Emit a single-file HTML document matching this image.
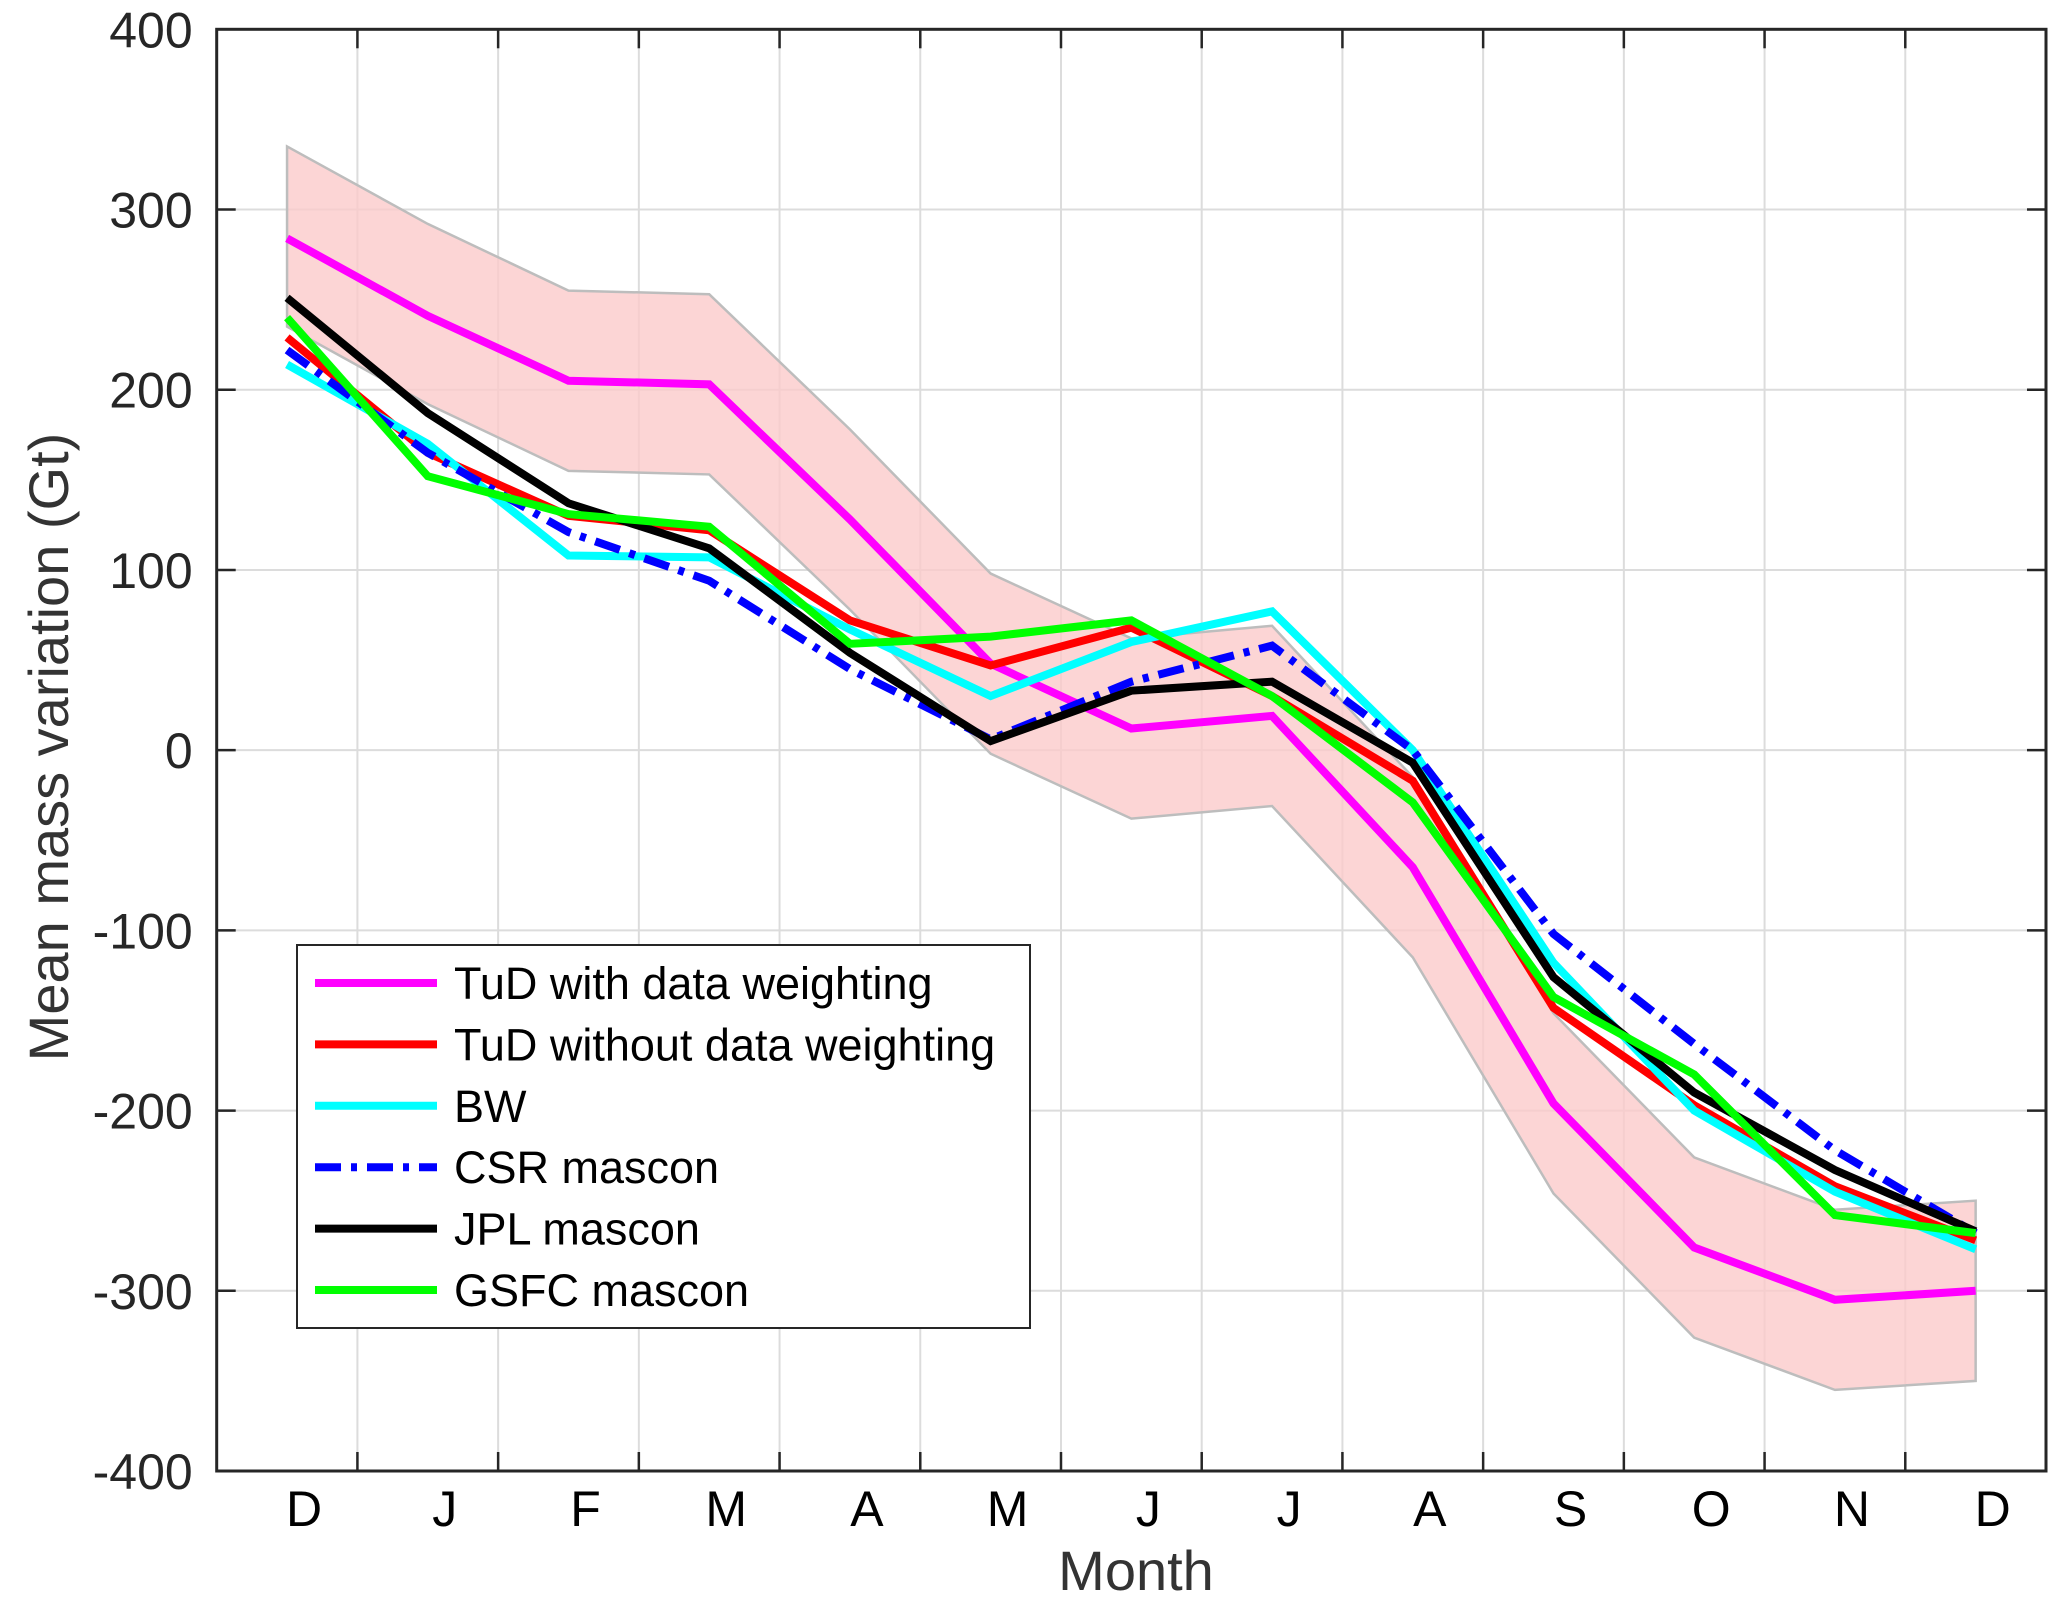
<!DOCTYPE html>
<html><head><meta charset="utf-8"><style>
html,body{margin:0;padding:0;background:#fff;}
svg{display:block;font-family:"Liberation Sans",Arial,sans-serif;}
</style></head><body>
<svg id="chart" width="2067" height="1612" viewBox="0 0 2067 1612" xmlns="http://www.w3.org/2000/svg">
<g id="grid"></g>
<g id="band"></g>
<g id="series"></g>
<g id="axes"></g>
<g id="legend"></g>
</svg>
<script>
const months = ["D","J","F","M","A","M","J","J","A","S","O","N","D"];
const yTicks = [400,300,200,100,0,-100,-200,-300,-400];
const seriesNames = ["TuD with data weighting","TuD without data weighting","BW","CSR mascon","JPL mascon","GSFC mascon"];
const tudWith = [284,241,205,203,128,48,12,19,-65,-196,-276,-305,-300];
const tudWithout = [229,165,130,122,72,47,68,30,-17,-143,-197,-242,-272];
const bw = [214,170,108,107,67,30,60,77,0,-118,-200,-245,-277];
const csr = [222,165,121,94,45,6,38,58,0,-102,-163,-222,-268];
const jpl = [251,187,137,112,54,5,33,38,-7,-126,-190,-233,-267];
const gsfc = [240,152,131,124,59,63,72,30,-29,-137,-180,-258,-268];
const bandUpper = [335,292,255,253,178,98,62,69,-15,-146,-226,-255,-250];
const bandLower = [235,192,155,153,78,-2,-38,-31,-115,-246,-326,-355,-350];

const NS="http://www.w3.org/2000/svg";
const L=216.7,R=2046,T=29.3,B=1471;
const xs=i=>L+(i+0.5)/13*(R-L);
const ys=v=>T+(400-v)/800*(B-T);
function mk(tag,attrs,parent){const e=document.createElementNS(NS,tag);for(const k in attrs)e.setAttribute(k,attrs[k]);parent.appendChild(e);return e;}
const grid=document.getElementById('grid'),band=document.getElementById('band'),ser=document.getElementById('series'),axes=document.getElementById('axes'),leg=document.getElementById('legend');

for(let i=0;i<12;i++){const x=xs(i+0.5);const g=mk('line',{x1:x,x2:x,y1:T,y2:B,stroke:'#dcdcdc','stroke-width':2},grid);

}
yTicks.forEach(v=>{const y=ys(v);const g=mk('line',{x1:L,x2:R,y1:y,y2:y,stroke:'#dcdcdc','stroke-width':2},grid);

});

let pts=bandUpper.map((v,i)=>xs(i)+','+ys(v));
for(let i=bandLower.length-1;i>=0;i--)pts.push(xs(i)+','+ys(bandLower[i]));
const bp=mk('polygon',{points:pts.join(' '),fill:'#fbcaca','fill-opacity':0.8,stroke:'#bdbdbd','stroke-width':2.5},band);



const styles=[
 {data:tudWith,color:'#ff00ff',dash:null,name:'series-tud-with-weighting'},
 {data:tudWithout,color:'#ff0000',dash:null,name:'series-tud-without-weighting'},
 {data:bw,color:'#00ffff',dash:null,name:'series-bw'},
 {data:csr,color:'#0000ff',dash:'26 10 6 10',name:'series-csr-mascon'},
 {data:jpl,color:'#000000',dash:null,name:'series-jpl-mascon'},
 {data:gsfc,color:'#00ff00',dash:null,name:'series-gsfc-mascon'}];
styles.forEach(s=>{const a={points:s.data.map((v,i)=>xs(i)+','+ys(v)).join(' '),fill:'none',stroke:s.color,'stroke-width':8,'stroke-linejoin':'miter'};
 if(s.dash)a['stroke-dasharray']=s.dash;
 const p=mk('polyline',a,ser);
 
 });

const box=mk('rect',{x:L,y:T,width:R-L,height:B-T,fill:'none',stroke:'#262626','stroke-width':3},axes);


for(let i=0;i<12;i++){const x=xs(i+0.5);
 mk('line',{x1:x,x2:x,y1:B,y2:B-19,stroke:'#262626','stroke-width':2.5},axes);
 mk('line',{x1:x,x2:x,y1:T,y2:T+19,stroke:'#262626','stroke-width':2.5},axes);}
yTicks.forEach(v=>{const y=ys(v);
 mk('line',{x1:L,x2:L+19,y1:y,y2:y,stroke:'#262626','stroke-width':2.5},axes);
 mk('line',{x1:R,x2:R-19,y1:y,y2:y,stroke:'#262626','stroke-width':2.5},axes);
 const t=mk('text',{x:L-24,y:y+18,'text-anchor':'end','font-size':50,fill:'#262626'},axes);t.textContent=v;
 
 });
months.forEach((m,i)=>{const t=mk('text',{x:xs(i)+17,y:1526,'text-anchor':'middle','font-size':50,fill:'#000'},axes);t.textContent=m;
 
 });
const xt=mk('text',{x:1136,y:1590,'text-anchor':'middle','font-size':56,fill:'#333'},axes);xt.textContent='Month';


const yt=mk('text',{x:0,y:0,'text-anchor':'middle','font-size':56,fill:'#333',transform:'translate(68,747) rotate(-90)'},axes);yt.textContent='Mean mass variation (Gt)';



const lb=mk('rect',{x:297,y:945,width:733,height:383,fill:'#fff',stroke:'#262626','stroke-width':2},leg);


seriesNames.forEach((n,i)=>{const y=983+i*61.4;const s=styles[i];
 const a={x1:315,x2:437,y1:y,y2:y,stroke:s.color,'stroke-width':8};
 if(s.dash)a['stroke-dasharray']=s.dash;
 const ln=mk('line',a,leg);
 
 
 const t=mk('text',{x:454,y:y+16,'font-size':45,fill:'#000'},leg);t.textContent=n;
 
 });
</script>
</body></html>
